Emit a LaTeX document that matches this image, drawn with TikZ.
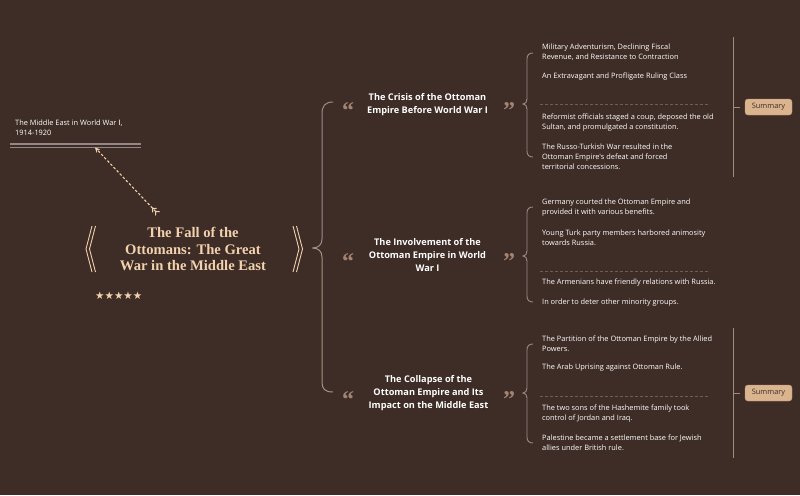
\documentclass[tikz,border=0pt]{standalone}
\usepackage{fontspec}
\setmainfont{Liberation Serif}
\newfontfamily\osf{Open Sans}
\newfontfamily\djf{DejaVu Sans}
\usetikzlibrary{arrows.meta}
\definecolor{bg}{HTML}{3E2C26}
\definecolor{peach}{HTML}{F2D2AE}
\definecolor{quotec}{HTML}{A38472}
\definecolor{bracegrey}{HTML}{9A8A8C}
\definecolor{bracetan}{HTML}{A59280}
\definecolor{sumline}{HTML}{A08C78}
\definecolor{sumfill}{HTML}{D9B48F}
\definecolor{sumdraw}{HTML}{C49C78}
\definecolor{sepc}{HTML}{6E5C55}
\definecolor{ulc}{HTML}{948686}
\begin{document}
\begin{tikzpicture}[x=1pt,y=-1pt,
  leaf/.style={anchor=west,inner sep=0pt,align=left,font=\osf\fontsize{7.4}{10}\selectfont,text=white},
  topic/.style={inner sep=0pt,align=center,font=\osf\bfseries\fontsize{9.2}{13}\selectfont,text=white},
  quotemark/.style={inner sep=0pt,font=\bfseries\fontsize{24}{24}\selectfont,text=quotec},
  titlestyle/.style={inner sep=0pt,align=center,font=\bfseries\fontsize{14.6}{16.6}\selectfont,text=peach},
  bracel/.style={draw=bracegrey,line width=1pt},
  bracer/.style={draw=bracegrey,line width=0.9pt},
  sepline/.style={draw=sepc,line width=0.6pt,dash pattern=on 3pt off 2pt},
  sumbox/.style={draw=sumdraw,fill=sumfill,rounded corners=3pt,minimum width=47pt,minimum height=16pt,inner sep=0pt,font=\osf\fontsize{7.4}{8}\selectfont,text=bg},
  titlebr/.style={draw=peach,line width=0.9pt}
]
\useasboundingbox (0,0) rectangle (800,495);
\fill[bg] (0,0) rectangle (800,495);

% top-left label
\node[leaf] (lbl) at (15,128) {The Middle East in World War {\djf Ⅰ},\\1914-1920};
\coordinate (ulA) at (10,144);
\coordinate (ulB) at (141,144);
\coordinate (ulC) at (10,147.5);
\coordinate (ulD) at (141,147.5);
\draw[ulc,line width=1.3pt] (ulA) -- (ulB);
\draw[ulc,line width=1.3pt] (ulC) -- (ulD);

% central title
\node[titlestyle] (title) at (193,249) {The Fall of the\\Ottomans: The Great\\War in the Middle East};
\coordinate (lb1) at (92,226); \coordinate (lb2) at (86,249); \coordinate (lb3) at (92,272);
\coordinate (lb4) at (95.5,226); \coordinate (lb5) at (89.5,249); \coordinate (lb6) at (95.5,272);
\draw[titlebr] (lb1) -- (lb2) -- (lb3);
\draw[titlebr] (lb4) -- (lb5) -- (lb6);
\coordinate (rb1) at (293,226); \coordinate (rb2) at (299,249); \coordinate (rb3) at (293,272);
\coordinate (rb4) at (296.5,226); \coordinate (rb5) at (302.5,249); \coordinate (rb6) at (296.5,272);
\draw[titlebr] (rb1) -- (rb2) -- (rb3);
\draw[titlebr] (rb4) -- (rb5) -- (rb6);
\node[inner sep=0pt,anchor=west,font=\djf\fontsize{10.5}{12}\selectfont,text=peach] (stars) at (95,296) {★★★★★};

% dashed arrow
\coordinate (arrTail) at (158,214);
\coordinate (arrHead) at (95,147.5);
\draw[peach,line width=1.1pt,dash pattern=on 2.5pt off 2pt,
  {Straight Barb[reversed,length=3pt,width=5.5pt]Straight Barb[reversed,length=3pt,width=5.5pt]}-{Stealth[length=5pt,width=5pt]}]
  (arrTail) -- (arrHead);

% main brace
\coordinate (mbTop) at (333,102);
\coordinate (mbCusp) at (312.5,248);
\coordinate (mbBot) at (333,392);
\draw[bracel] (mbTop) .. controls (325,102) and (322,106) .. (322,114) -- (322,239) .. controls (322,245) and (318,248) .. (mbCusp);
\draw[bracel,draw=bracetan] (mbCusp) .. controls (318,248) and (322,251) .. (322,257) -- (322,382) .. controls (322,389) and (325,392) .. (mbBot);

% topics
\node[topic] (t1) at (427.5,105) {The Crisis of the Ottoman\\Empire Before World War I};
\node[topic] (t2) at (427.5,255) {The Involvement of the\\Ottoman Empire in World\\War I};
\node[topic] (t3) at (428.5,393) {The Collapse of the\\Ottoman Empire and Its\\Impact on the Middle East};
\node[quotemark] (q1l) at (348,111) {“};
\node[quotemark] (q1r) at (509,111) {”};
\node[quotemark] (q2l) at (348,262) {“};
\node[quotemark] (q2r) at (509,262) {”};
\node[quotemark] (q3l) at (348,400) {“};
\node[quotemark] (q3r) at (509,400) {”};

% right braces
\foreach \nm/\ya/\yc/\yb in {b1/53/104/157, b2/207/256/302, b3/344/393/443}{
  \coordinate (\nm top) at (533,\ya);
  \coordinate (\nm cusp) at (523,\yc);
  \coordinate (\nm bot) at (533,\yb);
  \draw[bracer] (\nm top) .. controls (529,\ya) and (527,\ya+2) .. (527,\ya+6) -- (527,\yc-5) .. controls (527,\yc-2) and (525.5,\yc) .. (\nm cusp)
     .. controls (525.5,\yc) and (527,\yc+2) .. (527,\yc+5) -- (527,\yb-6) .. controls (527,\yb-2) and (529,\yb) .. (\nm bot);
}

% separators
\coordinate (s1a) at (540,104); \coordinate (s1b) at (710,104);
\coordinate (s2a) at (540,271); \coordinate (s2b) at (710,271);
\coordinate (s3a) at (540,396); \coordinate (s3b) at (710,396);
\draw[sepline] (s1a) -- (s1b);
\draw[sepline] (s2a) -- (s2b);
\draw[sepline] (s3a) -- (s3b);

% leaves group 1
\node[leaf] (l11) at (542,52) {Military Adventurism, Declining Fiscal\\Revenue, and Resistance to Contraction};
\node[leaf] (l12) at (542,77) {An Extravagant and Profligate Ruling Class};
\node[leaf] (l13) at (542,123) {Reformist officials staged a coup, deposed the old\\Sultan, and promulgated a constitution.};
\node[leaf] (l14) at (542,157) {The Russo-Turkish War resulted in the\\Ottoman Empire's defeat and forced\\territorial concessions.};
% group 2
\node[leaf] (l21) at (542,208) {Germany courted the Ottoman Empire and\\provided it with various benefits.};
\node[leaf] (l22) at (542,238) {Young Turk party members harbored animosity\\towards Russia.};
\node[leaf] (l23) at (542,283) {The Armenians have friendly relations with Russia.};
\node[leaf] (l24) at (542,303) {In order to deter other minority groups.};
% group 3
\node[leaf] (l31) at (542,343.5) {The Partition of the Ottoman Empire by the Allied\\Powers.};
\node[leaf] (l32) at (542,368) {The Arab Uprising against Ottoman Rule.};
\node[leaf] (l33) at (542,414) {The two sons of the Hashemite family took\\control of Jordan and Iraq.};
\node[leaf] (l34) at (542,443) {Palestine became a settlement base for Jewish\\allies under British rule.};

% summaries
\coordinate (sv1a) at (733,37); \coordinate (sv1b) at (733,177);
\coordinate (sv1m) at (733,107);
\node[sumbox] (sum1) at (768.5,107) {Summary};
\draw[sumline,line width=1pt] (sv1a) -- (sv1b);
\draw[sumline,line width=1pt] (sv1m) -- ([xshift=-5pt]sum1.west);
\coordinate (sv3a) at (733,328); \coordinate (sv3b) at (733,458);
\coordinate (sv3m) at (733,393);
\node[sumbox] (sum3) at (768.5,393) {Summary};
\draw[sumline,line width=1pt] (sv3a) -- (sv3b);
\draw[sumline,line width=1pt] (sv3m) -- ([xshift=-5pt]sum3.west);
\end{tikzpicture}
\end{document}
